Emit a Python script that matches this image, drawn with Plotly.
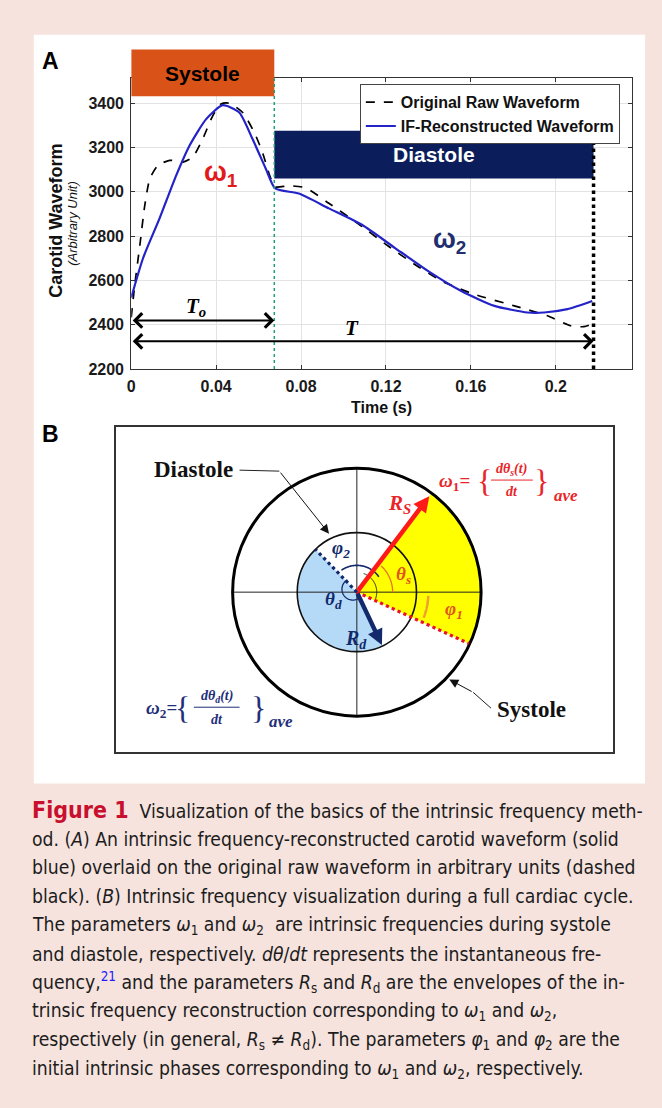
import numpy as np
import plotly.graph_objects as go

W, H = 662, 1108

# ---------------- Panel A data ----------------
ifr_time = [0.0, 0.0056, 0.0134, 0.0212, 0.0275, 0.0353, 0.0431, 0.0509, 0.0571, 0.0634, 0.0678,
            0.0790, 0.0931, 0.1087, 0.1243, 0.1399, 0.1555, 0.1711, 0.1867, 0.1945, 0.2055, 0.2172]
ifr_wave = [2522, 2701, 2881, 3074, 3209, 3328, 3391, 3358, 3239, 3104, 3015,
            2992, 2925, 2851, 2746, 2642, 2552, 2485, 2455, 2455, 2470, 2507]
raw_time = [0.0, 0.0017, 0.0041, 0.0064, 0.0088, 0.0126, 0.0181, 0.0244, 0.0290, 0.0337, 0.0384,
            0.0423, 0.0462, 0.0525, 0.0579, 0.0618, 0.0652, 0.0678, 0.0743, 0.0821, 0.0931, 0.1055,
            0.1212, 0.1336, 0.1462, 0.1617, 0.1805, 0.1961, 0.2070, 0.2133, 0.2172]
raw_wave = [2433, 2582, 2761, 2940, 3060, 3119, 3142, 3134, 3157, 3239, 3343,
            3396, 3400, 3358, 3269, 3179, 3074, 3022, 3027, 3018, 2948, 2866,
            2754, 2672, 2597, 2537, 2485, 2440, 2395, 2391, 2403]
x_ticks = [0, 0.04, 0.08, 0.12, 0.16, 0.2]
x_ticklabels = ["0", "0.04", "0.08", "0.12", "0.16", "0.2"]
y_ticks = [2200, 2400, 2600, 2800, 3000, 3200, 3400]
T0 = 0.0674            # end of systole (s)
T_PERIOD = 0.2178      # cardiac period (s)
DIAST_BOX = [3060, 3275]
TO_ARROW_Y = 2419
T_ARROW_Y = 2325

# ---------------- Panel B diagram parameters (pixel units) ----------------
CX, CY = 355, 597
R_OUT, R_IN = 125, 60
ANG_RS, ANG_RED_DOT, ANG_NAVY_DOT, ANG_RD = 53, -24.7, 134, -64.7

RED = "#ff1a1a"
NAVY = "#12296b"
ORANGE = "#e8731a"
FONT = "Liberation Sans"
SERIF = "Liberation Serif"


def px(x):
    return x / W


def py(y):
    return 1 - y / H


def arc(cx, cy, r, a0, a1, n=60):
    a = np.radians(np.linspace(a0, a1, n))
    return cx + r * np.cos(a), cy - r * np.sin(a)


def polar(r, ang):
    a = np.radians(ang)
    return CX + r * np.cos(a), CY - r * np.sin(a)


def path(xs, ys, start=None, close=False):
    parts = []
    if start is not None:
        parts.append(f"M{start[0]:.2f},{start[1]:.2f}")
    for x, y in zip(xs, ys):
        parts.append(("L" if parts else "M") + f"{x:.2f},{y:.2f}")
    s = " ".join(parts)
    return s + (" Z" if close else "")


fig = go.Figure()

fig.add_trace(go.Scatter(x=raw_time, y=raw_wave, mode="lines", name="Original Raw Waveform",
                         line=dict(color="black", width=1.7, dash="dash", shape="spline", smoothing=0.6),
                         xaxis="x", yaxis="y"))
fig.add_trace(go.Scatter(x=ifr_time, y=ifr_wave, mode="lines", name="IF-Reconstructed Waveform",
                         line=dict(color="#2323c8", width=2.2, shape="spline", smoothing=0.6),
                         xaxis="x", yaxis="y"))
# anchor trace for the diagram subplot
fig.add_trace(go.Scatter(x=[CX], y=[CY], mode="markers", marker=dict(size=1, opacity=0),
                         showlegend=False, hoverinfo="skip", xaxis="x2", yaxis="y2"))

shapes = []
ann = []


def pa(x, y, text, size, color="black", family=FONT, **kw):
    d = dict(xref="paper", yref="paper", x=px(x), y=py(y), text=text, showarrow=False,
             xanchor="center", yanchor="middle", font=dict(family=family, size=size, color=color))
    d.update(kw)
    return d


# white panel behind A and B
shapes.append(dict(type="rect", xref="paper", yref="paper", x0=px(30), x1=px(645), y0=py(790), y1=py(35),
                   fillcolor="white", line=dict(width=0), layer="below"))

# ---- Panel A decorations ----
shapes.append(dict(type="rect", xref="x", yref="paper", x0=0, x1=T0, y0=py(97), y1=py(50),
                   fillcolor="#D95319", line=dict(width=0)))
shapes.append(dict(type="rect", xref="x", yref="y", x0=T0, x1=T_PERIOD, y0=DIAST_BOX[0], y1=DIAST_BOX[1],
                   fillcolor="#0b1e5b", line=dict(width=0)))
shapes.append(dict(type="line", xref="x", yref="y domain", x0=T0, x1=T0, y0=0, y1=1,
                   line=dict(color="#1fa07a", width=1.5, dash="dot")))
shapes.append(dict(type="line", xref="x", yref="y", x0=T_PERIOD, x1=T_PERIOD, y0=2200, y1=DIAST_BOX[1],
                   line=dict(color="black", width=3.5, dash="dot")))

ann.append(dict(xref="x", yref="paper", x=T0 / 2, y=py(74), text="<b>Systole</b>", showarrow=False,
                xanchor="center", yanchor="middle", font=dict(family=FONT, size=21, color="black")))
ann.append(dict(xref="x", yref="y", x=(T0 + T_PERIOD) / 2, y=sum(DIAST_BOX) / 2, text="<b>Diastole</b>",
                xanchor="center", yanchor="middle",
                showarrow=False, font=dict(family=FONT, size=21, color="white")))
ann.append(dict(xref="x", yref="y", x=0.0422, y=3082, text="<b>ω<sub>1</sub></b>", showarrow=False,
                xanchor="center", yanchor="middle", font=dict(family=FONT, size=27, color="#e31a1c")))
ann.append(dict(xref="x", yref="y", x=0.1499, y=2778, text="<b>ω<sub>2</sub></b>", showarrow=False,
                xanchor="center", yanchor="middle", font=dict(family=FONT, size=27, color="#1f2f70")))
ann.append(dict(xref="x", yref="y", x=0.0304, y=2478, text="<b><i>T<sub>o</sub></i></b>", showarrow=False,
                xanchor="center", yanchor="middle", font=dict(family=SERIF, size=21, color="black")))
ann.append(dict(xref="x", yref="y", x=0.104, y=2383, text="<b><i>T</i></b>", showarrow=False,
                xanchor="center", yanchor="middle", font=dict(family=SERIF, size=21, color="black")))
for xe, ye in [(T0, TO_ARROW_Y), (T_PERIOD, T_ARROW_Y)]:
    ann.append(dict(xref="x", yref="y", axref="x", ayref="y", x=xe, y=ye, ax=0, ay=ye, text="",
                    showarrow=True, arrowside="end+start", arrowhead=4, startarrowhead=4,
                    arrowsize=1.4, startarrowsize=1.4, arrowwidth=2, arrowcolor="black"))

ann.append(pa(47, 61, "<b>A</b>", 23))
ann.append(pa(47, 438, "<b>B</b>", 23))
ann.append(pa(53, 223, "<b>Carotid Waveform</b>", 18, "#111", textangle=-90))
ann.append(pa(69, 225, "<i>(Arbitrary Unit)</i>", 13, "#111", textangle=-90))
ann.append(pa(380, 411, "<b>Time (s)</b>", 16, "#111"))

# ---- Panel B diagram ----
B = dict(xref="x2", yref="y2")
xs, ys = arc(CX, CY, R_OUT, ANG_RED_DOT, ANG_RS)
shapes.append(dict(type="path", path=path(xs, ys, start=(CX, CY), close=True), fillcolor="#ffff00",
                   line=dict(width=0), **B))
xs, ys = arc(CX, CY, R_IN, ANG_NAVY_DOT, 360 + ANG_RD)
shapes.append(dict(type="path", path=path(xs, ys, start=(CX, CY), close=True), fillcolor="#b5daf7",
                   line=dict(width=0), **B))
shapes.append(dict(type="line", x0=CX - R_OUT, x1=CX + R_OUT, y0=CY, y1=CY, line=dict(color="#222", width=1), **B))
shapes.append(dict(type="line", x0=CX, x1=CX, y0=CY - R_OUT, y1=CY + R_OUT, line=dict(color="#222", width=1), **B))
shapes.append(dict(type="circle", x0=CX - R_IN, x1=CX + R_IN, y0=CY - R_IN, y1=CY + R_IN,
                   line=dict(color="#111", width=1.6), **B))
shapes.append(dict(type="circle", x0=CX - R_OUT, x1=CX + R_OUT, y0=CY - R_OUT, y1=CY + R_OUT,
                   line=dict(color="black", width=3), **B))
ex, ey = polar(R_OUT - 1, ANG_RED_DOT)
shapes.append(dict(type="line", x0=CX, y0=CY, x1=ex, y1=ey, line=dict(color="#e8102a", width=3.2, dash="dot"), **B))
ex, ey = polar(R_IN, ANG_NAVY_DOT)
shapes.append(dict(type="line", x0=CX, y0=CY, x1=ex, y1=ey, line=dict(color=NAVY, width=3.2, dash="dot"), **B))

# theta_s arc
xs, ys = arc(CX, CY, 36, 0, 47)
shapes.append(dict(type="path", path=path(xs, ys), line=dict(color=ORANGE, width=1.3), **B))
ann.append(dict(x=xs[-1], y=ys[-1], ax=xs[-4], ay=ys[-4], axref="x2", ayref="y2", text="", showarrow=True,
                arrowhead=2, arrowsize=1.4, arrowwidth=1.3, arrowcolor=ORANGE, **B))
# phi_1 curved arrow
xs, ys = arc(CX, CY, 72, -3, -21)
shapes.append(dict(type="path", path=path(xs, ys), line=dict(color="#f0a030", width=2.5), **B))
ann.append(dict(x=xs[-1], y=ys[-1], ax=xs[-6], ay=ys[-6], axref="x2", ayref="y2", text="", showarrow=True,
                arrowhead=2, arrowsize=1.0, arrowwidth=2.5, arrowcolor="#f0a030", **B))
# phi_2 curved arrow
xs, ys = arc(CX, CY, 27, 35, 125)
shapes.append(dict(type="path", path=path(xs, ys), line=dict(color=NAVY, width=1.6), **B))
ann.append(dict(x=xs[-1], y=ys[-1], ax=xs[-5], ay=ys[-5], axref="x2", ayref="y2", text="", showarrow=True,
                arrowhead=2, arrowsize=1.5, arrowwidth=1.5, arrowcolor=NAVY, **B))
xs, ys = arc(CX, CY, 20, -20, 70)
shapes.append(dict(type="path", path=path(xs, ys), line=dict(color="#222", width=1), **B))
# theta_d small loop
xs, ys = arc(CX - 4, CY - 3, 11, 120, 300)
shapes.append(dict(type="path", path=path(xs, ys), line=dict(color=NAVY, width=1.3), **B))
ann.append(dict(x=xs[-1], y=ys[-1], ax=xs[-6], ay=ys[-6], axref="x2", ayref="y2", text="", showarrow=True,
                arrowhead=2, arrowsize=1.3, arrowwidth=1.3, arrowcolor=NAVY, **B))

# R_s and R_d arrows
tx, ty = polar(121, ANG_RS)
ann.append(dict(x=tx, y=ty, ax=CX, ay=CY, axref="x2", ayref="y2", text="", showarrow=True,
                arrowhead=2, arrowsize=0.7, arrowwidth=4.5, arrowcolor=RED, **B))
tx, ty = polar(59, ANG_RD)
ann.append(dict(x=tx, y=ty, ax=CX, ay=CY, axref="x2", ayref="y2", text="", showarrow=True,
                arrowhead=2, arrowsize=0.7, arrowwidth=4.5, arrowcolor=NAVY, **B))

# leader lines
shapes.append(dict(type="line", x0=237, y0=474, x1=277, y1=475, line=dict(color="#222", width=1), **B))
ann.append(dict(x=327, y=538, ax=277, ay=475, axref="x2", ayref="y2", text="", showarrow=True,
                arrowhead=2, arrowsize=1.8, arrowwidth=1, arrowcolor="#111", **B))
shapes.append(dict(type="line", x0=490, y0=714, x1=472, y1=698, line=dict(color="#222", width=1), **B))
ann.append(dict(x=448, y=685, ax=472, ay=698, axref="x2", ayref="y2", text="", showarrow=True,
                arrowhead=2, arrowsize=1.8, arrowwidth=1, arrowcolor="#111", **B))


def bt(x, y, text, size, color, family=SERIF, **kw):
    d = dict(x=x, y=y, text=text, showarrow=False, xanchor="center", yanchor="middle",
             font=dict(family=family, size=size, color=color), **B)
    d.update(kw)
    return d


ann.append(bt(191, 473, "<b>Diastole</b>", 23, "#111"))
ann.append(bt(531, 715, "<b>Systole</b>", 23, "#111"))
ann.append(bt(398, 508, "<b><i>R<sub>S</sub></i></b>", 21, "#e8262a"))
ann.append(bt(402, 580, "<b><i>θ<sub>s</sub></i></b>", 19, "#e2531b"))
ann.append(bt(453, 615, "<b><i>φ<sub>1</sub></i></b>", 19, "#e2531b"))
ann.append(bt(339, 553, "<b><i>φ<sub>2</sub></i></b>", 19, NAVY))
ann.append(bt(332, 605, "<b><i>θ<sub>d</sub></i></b>", 19, NAVY))
ann.append(bt(354, 645, "<b><i>R<sub>d</sub></i></b>", 20, NAVY))

# omega_1 formula
W1C = "#e8262a"
ann.append(bt(453, 486, "<b><i>ω</i><sub>1</sub>=</b>", 19, W1C))
ann.append(bt(483, 485, "{", 32, W1C))
ann.append(bt(541, 485, "}", 32, W1C))
ann.append(bt(511, 473, "<b><i>dθ<sub>s</sub>(t)</i></b>", 14, W1C))
ann.append(bt(511, 496, "<b><i>dt</i></b>", 14, W1C))
ann.append(bt(565, 500, "<b><i>ave</i></b>", 17, W1C))
shapes.append(dict(type="line", x0=490, x1=532, y0=484, y1=484, line=dict(color=W1C, width=1), **B))
# omega_2 formula
W2C = "#1f2f7a"
ann.append(bt(158, 715, "<b><i>ω</i><sub>2</sub>=</b>", 19, W2C))
ann.append(bt(180, 714, "{", 32, W2C))
ann.append(bt(256, 714, "}", 32, W2C))
ann.append(bt(214, 702, "<b><i>dθ<sub>d</sub>(t)</i></b>", 14, W2C))
ann.append(bt(214, 725, "<b><i>dt</i></b>", 14, W2C))
ann.append(bt(279, 727, "<b><i>ave</i></b>", 17, W2C))
shapes.append(dict(type="line", x0=191, x1=237, y0=713, y1=713, line=dict(color=W2C, width=1), **B))

# ---- Caption ----
caption_lines = [
    "<span style='color:#c8102e;font-size:23px'><b>Figure 1</b></span>&nbsp; Visualization of the basics of the intrinsic frequency meth-",
    "od. (<i>A</i>) An intrinsic frequency-reconstructed carotid waveform (solid",
    "blue) overlaid on the original raw waveform in arbitrary units (dashed",
    "black). (<i>B</i>) Intrinsic frequency visualization during a full cardiac cycle.",
    "The parameters <i>ω</i><sub>1</sub> and <i>ω</i><sub>2</sub>&nbsp; are intrinsic frequencies during systole",
    "and diastole, respectively. <i>dθ</i>/<i>dt</i> represents the instantaneous fre-",
    "quency,<sup><span style='color:#2020ff'>21</span></sup> and the parameters <i>R</i><sub>s</sub> and <i>R</i><sub>d</sub> are the envelopes of the in-",
    "trinsic frequency reconstruction corresponding to <i>ω</i><sub>1</sub> and <i>ω</i><sub>2</sub>,",
    "respectively (in general, <i>R</i><sub>s</sub> ≠ <i>R</i><sub>d</sub>). The parameters <i>φ</i><sub>1</sub> and <i>φ</i><sub>2</sub> are the",
    "initial intrinsic phases corresponding to <i>ω</i><sub>1</sub> and <i>ω</i><sub>2</sub>, respectively.",
]
for i, line in enumerate(caption_lines):
    ann.append(dict(xref="paper", yref="paper", x=px(26), y=py(817 + i * 29), xanchor="left", yanchor="middle",
                    text=line, showarrow=False, align="left",
                    font=dict(family="DejaVu Sans Condensed", size=19.2, color="#1c1c1c")))

axis_common = dict(showline=True, linecolor="#333", linewidth=1, mirror="ticks", ticks="inside", ticklen=4,
                   tickcolor="#333", showgrid=True, gridcolor="#e3e3e3", gridwidth=1, zeroline=False,
                   tickfont=dict(family=FONT, size=16, color="#1a1a1a", weight="bold"))

fig.update_layout(
    width=W, height=H, autosize=False, margin=dict(l=0, r=0, t=0, b=0),
    paper_bgcolor="#f6e3de", plot_bgcolor="white",
    xaxis=dict(domain=[px(128), px(632)], range=[0, 0.236], tickvals=x_ticks, ticktext=x_ticklabels,
               anchor="y", ticklabelstandoff=3, **axis_common),
    yaxis=dict(domain=[py(372), py(79)], range=[2200, 3512], tickvals=y_ticks, anchor="x",
               ticklabelstandoff=3, **axis_common),
    xaxis2=dict(domain=[px(113), px(613)], range=[113, 613], anchor="y2", showline=True, mirror=True,
                linecolor="#333", linewidth=1.5, showgrid=False, zeroline=False, showticklabels=False,
                ticks=""),
    yaxis2=dict(domain=[py(758), py(430)], range=[758, 430], anchor="x2", showline=True, mirror=True,
                linecolor="#333", linewidth=1.5, showgrid=False, zeroline=False, showticklabels=False,
                ticks=""),
    legend=dict(x=px(358), y=py(85), xanchor="left", yanchor="top", bgcolor="white", bordercolor="#444",
                borderwidth=1, font=dict(family=FONT, size=16, color="#111", weight="bold"),
                tracegroupgap=0),
    shapes=shapes, annotations=ann, showlegend=True,
)

fig.write_html("out.html")
